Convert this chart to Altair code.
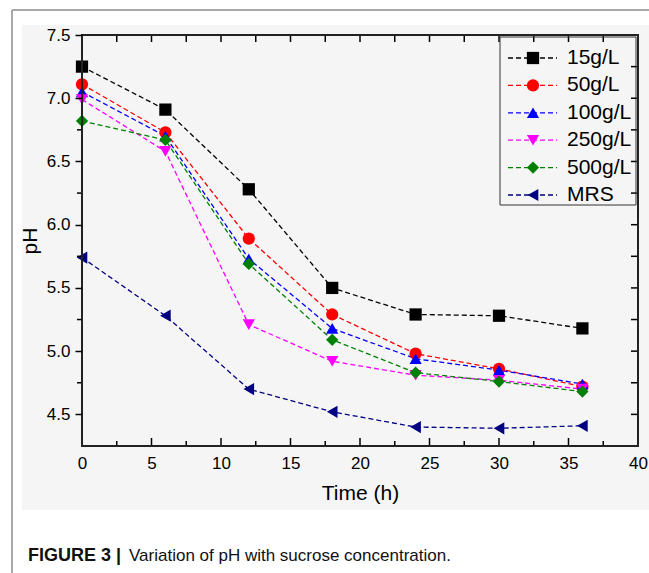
import altair as alt
import pandas as pd

# ---------------- data ----------------
time_h = [0, 6, 12, 18, 24, 30, 36]
series_names = ["15g/L", "50g/L", "100g/L", "250g/L", "500g/L", "MRS"]
ph_15 = [7.25, 6.91, 6.28, 5.50, 5.29, 5.28, 5.18]
ph_50 = [7.11, 6.73, 5.89, 5.29, 4.98, 4.86, 4.72]
ph_100 = [7.05, 6.70, 5.73, 5.18, 4.94, 4.85, 4.74]
ph_250 = [6.99, 6.58, 5.21, 4.92, 4.81, 4.77, 4.70]
ph_500 = [6.82, 6.67, 5.69, 5.09, 4.83, 4.76, 4.68]
ph_mrs = [5.74, 5.28, 4.70, 4.52, 4.40, 4.39, 4.41]

x_major = [0, 5, 10, 15, 20, 25, 30, 35, 40]
x_minor = [2.5, 7.5, 12.5, 17.5, 22.5, 27.5, 32.5, 37.5]
y_major = [4.5, 5.0, 5.5, 6.0, 6.5, 7.0, 7.5]
y_minor = [4.75, 5.25, 5.75, 6.25, 6.75, 7.25]

colors = ["#000000", "#ff0000", "#0000ff", "#ff00ff", "#008000", "#000080"]
shapes = ["square", "circle", "triangle-up", "triangle-down", "diamond", "triangle-left"]

all_ph = [ph_15, ph_50, ph_100, ph_250, ph_500, ph_mrs]
rows = []
for name, vals in zip(series_names, all_ph):
    for t, v in zip(time_h, vals):
        rows.append({"series": name, "time": t, "ph": v})
df = pd.DataFrame(rows)

W, H = 556, 411
FONT = "Liberation Sans, Arial, Helvetica, sans-serif"

xscale = alt.Scale(domain=[0, 40], nice=False, zero=False)
yscale = alt.Scale(domain=[4.25, 7.5], nice=False, zero=False)

x_axis = alt.Axis(values=x_major, format="d", ticks=False, tickSize=0, domain=False,
                  grid=False, labelFontSize=17, labelPadding=9, labelColor="#000",
                  labelFont=FONT, titleFont=FONT, titleFontSize=21, titleFontWeight="normal",
                  titleColor="#000", titlePadding=11, labelFlush=False, zindex=2)
y_axis = alt.Axis(values=y_major, format=".1f", ticks=True, tickSize=7, tickWidth=1.5,
                  tickColor="#000", domain=False, grid=False, labelFontSize=17,
                  labelPadding=5, labelColor="#000", labelFont=FONT, titleFont=FONT,
                  titleFontSize=21, titleFontWeight="normal", titleColor="#000",
                  titlePadding=6, zindex=2)

def X():
    return alt.X("time:Q", scale=xscale, axis=x_axis, title="Time (h)")

def Y():
    return alt.Y("ph:Q", scale=yscale, axis=y_axis, title="pH")

color_enc = alt.Color("series:N", scale=alt.Scale(domain=series_names, range=colors), legend=None)
shape_enc = alt.Shape("series:N", scale=alt.Scale(domain=series_names, range=shapes), legend=None)

one = pd.DataFrame({"a": [0]})

# decorative background and outer frame
bg = alt.Chart(one).mark_rect(color="#f5f5f5").encode(
    x=alt.value(-60), x2=alt.value(567), y=alt.value(-10), y2=alt.value(475))
frame_left = alt.Chart(one).mark_rule(color="#a8a8a8", strokeWidth=2).encode(
    x=alt.value(-70), y=alt.value(-25), y2=alt.value(538))
frame_top = alt.Chart(one).mark_rule(color="#a8a8a8", strokeWidth=2).encode(
    x=alt.value(-70), x2=alt.value(567), y=alt.value(-25))

lines = alt.Chart(df).mark_line(strokeDash=[5, 3], strokeWidth=1.3).encode(
    x=X(), y=Y(), color=color_enc, detail="series:N", order="time:Q")
points = alt.Chart(df).mark_point(filled=True, opacity=1, size=150).encode(
    x=X(), y=Y(), color=color_enc, shape=shape_enc)

tick_style = dict(color="#000", strokeWidth=1.5)
bot_major = alt.Chart(pd.DataFrame({"time": x_major})).mark_rule(**tick_style).encode(
    x=X(), y=alt.value(H), y2=alt.value(H - 8))
bot_minor = alt.Chart(pd.DataFrame({"time": x_minor})).mark_rule(**tick_style).encode(
    x=X(), y=alt.value(H), y2=alt.value(H - 5))
top_ticks = alt.Chart(pd.DataFrame({"time": x_major + x_minor})).mark_rule(**tick_style).encode(
    x=X(), y=alt.value(0), y2=alt.value(7))
left_minor = alt.Chart(pd.DataFrame({"ph": y_minor})).mark_rule(**tick_style).encode(
    y=Y(), x=alt.value(-5), x2=alt.value(0))
right_ticks = alt.Chart(pd.DataFrame({"ph": y_major + y_minor})).mark_rule(**tick_style).encode(
    y=Y(), x=alt.value(W - 7), x2=alt.value(W))
box = alt.Chart(one).mark_rect(filled=False, stroke="#222", strokeWidth=2).encode(
    x=alt.value(0), x2=alt.value(W), y=alt.value(0), y2=alt.value(H))

main = alt.layer(lines, points, bot_major, bot_minor, top_ticks, left_minor, right_ticks, box)

# legend
leg_df = pd.DataFrame({"series": series_names})
leg_y = alt.Y("series:N", scale=alt.Scale(type="point", domain=series_names, range=[23, 160], padding=0), axis=None)
leg_box = alt.Chart(one).mark_rect(filled=False, stroke="#333", strokeWidth=1).encode(
    x=alt.value(418), x2=alt.value(554), y=alt.value(2), y2=alt.value(170))
leg_line = alt.Chart(leg_df).mark_rule(strokeDash=[5, 3], strokeWidth=1.3).encode(
    x=alt.value(426), x2=alt.value(475), y=leg_y, color=color_enc)
leg_pt = alt.Chart(leg_df).mark_point(filled=True, opacity=1, size=150).encode(
    x=alt.value(451), y=leg_y, color=color_enc, shape=shape_enc)
leg_txt = alt.Chart(leg_df).mark_text(align="left", baseline="middle", fontSize=21, font=FONT, color="#000").encode(
    x=alt.value(485), y=leg_y, text="series:N")
legend = alt.layer(leg_box, leg_line, leg_pt, leg_txt)

cap1 = alt.Chart(one).mark_text(align="left", baseline="alphabetic", fontSize=18, fontWeight="bold",
                                font=FONT, color="#111", text="FIGURE 3 |").encode(
    x=alt.value(-54), y=alt.value(526))
cap2 = alt.Chart(one).mark_text(align="left", baseline="alphabetic", fontSize=17,
                                font=FONT, color="#111",
                                text="Variation of pH with sucrose concentration.").encode(
    x=alt.value(47), y=alt.value(526))

chart = alt.layer(bg, frame_left, frame_top, main, legend, cap1, cap2).resolve_scale(
    y="independent").properties(
    width=W, height=H,
    autosize=alt.AutoSizeParams(type="none"),
    padding={"left": 82, "top": 35, "right": 11, "bottom": 127},
).configure_view(stroke=None).configure(background="white")

chart.save("out.html", embed_options={"renderer": "svg", "actions": False})
